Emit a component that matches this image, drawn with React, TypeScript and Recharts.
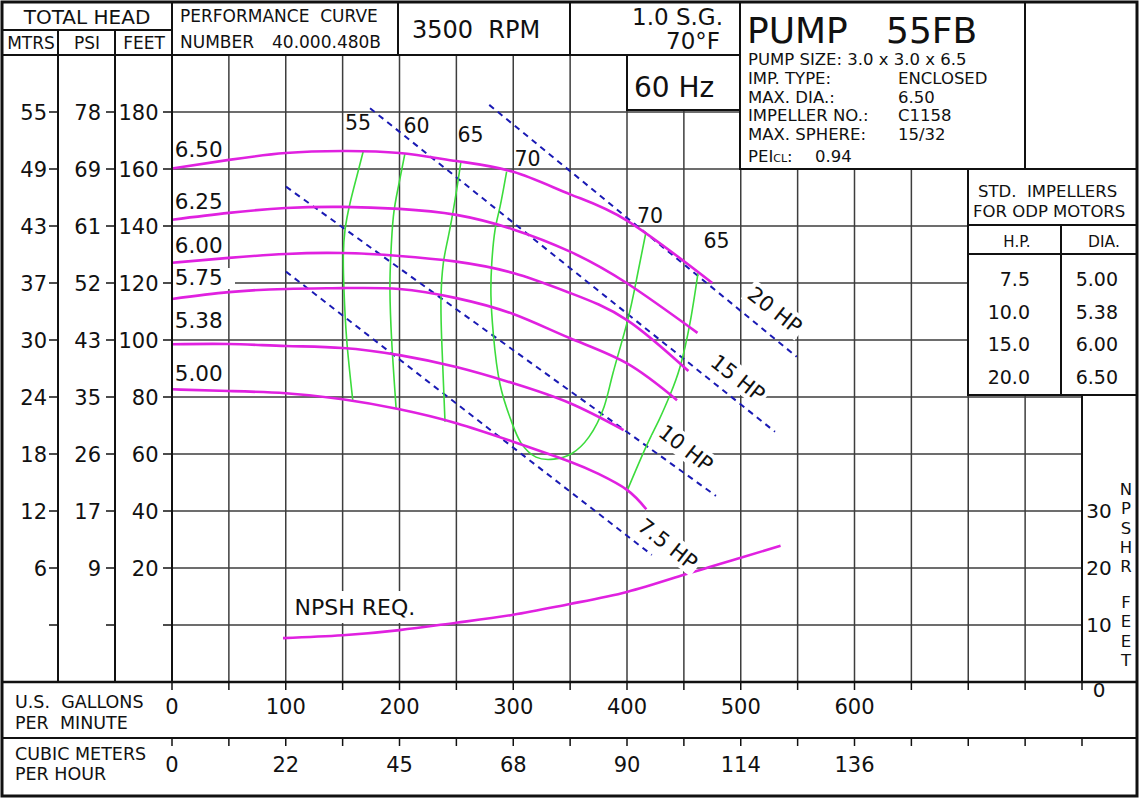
import { CartesianGrid, ComposedChart, Line, XAxis, YAxis } from 'recharts';

const FONT = '"DejaVu Sans", Verdana, sans-serif';
const INK = '#111';
const MAGENTA = '#e021e0';
const GREEN = '#3cdc3c';
const BLUE = '#1a1ab4';
const GRID = '#3d3d3d';

const W = 1140;
const H = 799;
const LEFT = 172;
const RIGHT = 1082;
const TOP = 55;
const BOTTOM = 682;
const ROW2 = 738;
const AXIS = 1; // thickness given to the (invisible) axes

// axis ticks / labels
const GPM_TICKS = [0, 50, 100, 150, 200, 250, 300, 350, 400, 450, 500, 550, 600, 650, 700, 750, 800];
const GPM_LABELS = [0, 100, 200, 300, 400, 500, 600];
const M3H_LABELS = ['0', '22', '45', '68', '90', '114', '136'];
const FEET_TICKS = [0, 20, 40, 60, 80, 100, 120, 140, 160, 180];
const MTRS_LABELS = ['', '6', '12', '18', '24', '30', '37', '43', '49', '55'];
const PSI_LABELS = ['', '9', '17', '26', '35', '43', '52', '61', '69', '78'];
const NPSH_TICKS = [0, 10, 20, 30];

// head curves, one per impeller diameter
const DIAMETERS = ['6.50', '6.25', '6.00', '5.75', '5.38', '5.00'];
const GPM_650 = [0, 50, 100, 150, 200, 250, 300, 350, 400, 475];
const FT_650 = [160.2, 163.2, 165.6, 166.3, 165.6, 162.8, 159, 151.1, 141.9, 120];
const GPM_625 = [0, 50, 100, 150, 200, 250, 300, 350, 400, 462];
const FT_625 = [142.2, 144.6, 146.3, 146.7, 146, 143.9, 138.8, 131, 119.9, 102.5];
const GPM_600 = [0, 50, 100, 150, 200, 250, 300, 350, 400, 454];
const FT_600 = [127.1, 128.8, 130.2, 130.5, 129.5, 127.5, 123.5, 116.5, 107, 89.1];
const GPM_575 = [0, 50, 100, 150, 200, 250, 300, 350, 400, 444];
const FT_575 = [114.4, 116.8, 117.9, 118.2, 117.9, 114.7, 109.1, 100.6, 91.8, 78.9];
const GPM_538 = [0, 50, 100, 150, 200, 250, 300, 350, 397];
const FT_538 = [98.5, 98.6, 97.9, 97.2, 94.7, 90.5, 84.8, 77.8, 68.4];
const GPM_500 = [0, 50, 100, 150, 200, 250, 300, 350, 375, 400, 417];
const FT_500 = [82.7, 82.1, 81.3, 79.2, 75.7, 70.8, 64.3, 57.3, 53, 47.4, 40.6];

// efficiency lines (%)
const EFF_NAMES = ['55', '60', '65', '70', '65'];
const EFF55_GPM = [168.2, 162.4, 156.5, 152.1, 150.6, 151.2, 153.6, 158.9];
const EFF55_FT = [166.3, 157.3, 148, 138.6, 129.2, 117.5, 100, 78.9];
const EFF60_GPM = [204.8, 199, 194.6, 192.3, 191.6, 193.1, 197];
const EFF60_FT = [165.5, 153.8, 143.3, 129.2, 117.5, 100, 76.1];
const EFF65_GPM = [254, 248.8, 242.9, 238.5, 236.5, 237.1, 240];
const EFF65_FT = [162.6, 149.1, 136.2, 126.9, 115.2, 100, 71.3];
const EFF70_GPM = [294.2, 288.4, 284, 281.1, 280.4, 282.5, 288.4, 298.9, 306.8, 320, 335.8, 350.8, 366.6, 379.8, 387.7, 400, 408.8, 416.7];
const EFF70_FT = [159.1, 146.8, 138.6, 126.9, 115.4, 102, 84.4, 70.9, 63.9, 58.9, 58.2, 60, 66, 76.5, 88.4, 106, 122.1, 137.9];
const EFF65R_GPM = [462.4, 455.4, 446.6, 437.8, 428.1, 416.7, 400];
const EFF65R_FT = [123.5, 106, 90.5, 80.7, 71.9, 62.5, 47];

// motor horsepower lines
const HP_NAMES = ['20 HP', '15 HP', '10 HP', '7.5 HP'];
const HP20_GPM = [278.9, 549.2];
const HP20_FT = [182.5, 94.1];
const HP15_GPM = [174.1, 530.1];
const HP15_FT = [181.3, 67.8];
const HP10_GPM = [100.2, 478.2];
const HP10_FT = [153.8, 45.3];
const HP75_GPM = [100.2, 421.8];
const HP75_FT = [124, 24.6];

// NPSH required
const NPSH_GPM = [97.6, 150, 200, 250, 300, 350, 400, 450, 500, 535];
const NPSH_FT = [7.7, 8.2, 9.1, 10.4, 11.8, 13.7, 15.8, 18.8, 21.8, 23.9];

// std impellers table
const STD_HP = ['7.5', '10.0', '15.0', '20.0'];
const STD_DIA = ['5.00', '5.38', '6.00', '6.50'];

const series = (g: number[], f: number[]) => g.map((gpm, i) => ({ gpm, ft: f[i] }));

const HEAD_CURVES = [
  series(GPM_650, FT_650),
  series(GPM_625, FT_625),
  series(GPM_600, FT_600),
  series(GPM_575, FT_575),
  series(GPM_538, FT_538),
  series(GPM_500, FT_500),
];
const EFF_CURVES = [
  series(EFF55_GPM, EFF55_FT),
  series(EFF60_GPM, EFF60_FT),
  series(EFF65_GPM, EFF65_FT),
  series(EFF70_GPM, EFF70_FT),
  series(EFF65R_GPM, EFF65R_FT),
];
const HP_LINES = [
  series(HP20_GPM, HP20_FT),
  series(HP15_GPM, HP15_FT),
  series(HP10_GPM, HP10_FT),
  series(HP75_GPM, HP75_FT),
];
const NPSH_DATA = NPSH_GPM.map((gpm, i) => ({ gpm, npsh: NPSH_FT[i] }));

// same scales as the chart, for placing annotation text
const gx = (g: number) => LEFT + ((RIGHT - LEFT) * g) / 800;
const hy = (ft: number) => BOTTOM - ((BOTTOM - TOP) * (ft + 20)) / 220;
const ny = (n: number) => BOTTOM - ((BOTTOM - TOP) * n) / 110;

// label anchors in chart units (gpm, ft)
const DIA_LABEL_FT = [164.2, 146, 130.5, 119.3, 104.2, 85.6];
const EFF_LABELS = ['55', '60', '65', '70', '70', '65'];
const EFF_LABEL_GPM = [163.5, 215, 262.4, 312.5, 420.2, 478.7];
const EFF_LABEL_FT = [173.7, 172.6, 169.5, 161, 141, 132.3];
const HP_LABEL_GPM = [530.1, 497.6, 451.9, 436];
const HP_LABEL_FT = [110.5, 86.7, 62.1, 28.4];

function GpmTick(props: any) {
  const { x, payload } = props;
  const v = payload.value as number;
  const i = GPM_LABELS.indexOf(v);
  return (
    <g>
      <line x1={x} x2={x} y1={BOTTOM} y2={BOTTOM + 8} stroke={INK} strokeWidth={1.5} />
      <line x1={x} x2={x} y1={ROW2} y2={ROW2 + 8} stroke={INK} strokeWidth={1.5} />
      {i >= 0 && (
        <text x={x} y={714} textAnchor="middle" fontSize={21} fill={INK}>
          {v}
        </text>
      )}
      {i >= 0 && (
        <text x={x} y={772} textAnchor="middle" fontSize={21} fill={INK}>
          {M3H_LABELS[i]}
        </text>
      )}
    </g>
  );
}

function HeadTick(props: any) {
  const { y, payload } = props;
  const i = FEET_TICKS.indexOf(payload.value);
  const by = y + 7.5;
  return (
    <g>
      <line x1={49} x2={58} y1={y} y2={y} stroke={INK} strokeWidth={1.5} />
      <line x1={106} x2={115} y1={y} y2={y} stroke={INK} strokeWidth={1.5} />
      <line x1={163} x2={172} y1={y} y2={y} stroke={INK} strokeWidth={1.5} />
      {i > 0 && (
        <>
          <text x={47} y={by} textAnchor="end" fontSize={21} fill={INK}>{MTRS_LABELS[i]}</text>
          <text x={101} y={by} textAnchor="end" fontSize={21} fill={INK}>{PSI_LABELS[i]}</text>
          <text x={158.5} y={by} textAnchor="end" fontSize={21} fill={INK}>{FEET_TICKS[i]}</text>
        </>
      )}
    </g>
  );
}

function NpshTick(props: any) {
  const { y, payload } = props;
  const v = payload.value as number;
  return (
    <text x={1099} y={v === 0 ? y + 15 : y + 7} textAnchor="middle" fontSize={20} fill={INK}>
      {v}
    </text>
  );
}

function Frame() {
  const L = { stroke: INK, strokeWidth: 2 };
  const t = { fill: INK, style: { whiteSpace: 'pre' as const } };
  const hpW = [62, 62, 62, 69];
  return (
    <svg
      width={W}
      height={H}
      style={{ position: 'absolute', left: 0, top: 0, pointerEvents: 'none', fontFamily: FONT }}
    >
      {/* boxes that sit over the grid */}
      <rect x={627} y={TOP} width={113} height={55} fill="#fff" {...L} />
      <rect x={740} y={2} width={397} height={167} fill="#fff" {...L} />
      <rect x={968} y={169} width={169} height={226} fill="#fff" {...L} />

      {/* frame lines */}
      <rect x={2} y={2} width={1135} height={794} fill="none" stroke={INK} strokeWidth={3} />
      <line x1={2} x2={LEFT} y1={30} y2={30} {...L} />
      <line x1={2} x2={740} y1={TOP} y2={TOP} {...L} />
      <line x1={58} x2={58} y1={30} y2={BOTTOM} {...L} />
      <line x1={115} x2={115} y1={30} y2={BOTTOM} {...L} />
      <line x1={LEFT} x2={LEFT} y1={2} y2={BOTTOM} {...L} />
      <line x1={398} x2={398} y1={2} y2={TOP} {...L} />
      <line x1={570} x2={570} y1={2} y2={TOP} {...L} />
      <line x1={1025} x2={1025} y1={2} y2={169} {...L} />
      <line x1={968} x2={1137} y1={225} y2={225} {...L} />
      <line x1={968} x2={1137} y1={254} y2={254} {...L} />
      <line x1={1061} x2={1061} y1={225} y2={395} {...L} />
      <line x1={RIGHT} x2={RIGHT} y1={395} y2={BOTTOM} {...L} />
      <line x1={2} x2={1137} y1={BOTTOM} y2={BOTTOM} stroke={INK} strokeWidth={2.5} />
      <line x1={2} x2={1137} y1={ROW2} y2={ROW2} {...L} />

      {/* header */}
      <text x={87} y={24} textAnchor="middle" fontSize={20} {...t}>TOTAL HEAD</text>
      <text x={31} y={49} textAnchor="middle" fontSize={17} {...t}>MTRS</text>
      <text x={87} y={49} textAnchor="middle" fontSize={17} {...t}>PSI</text>
      <text x={144} y={49} textAnchor="middle" fontSize={17} {...t}>FEET</text>
      <text x={180} y={22} fontSize={17} {...t}>PERFORMANCE  CURVE</text>
      <text x={180} y={48} fontSize={17} {...t}>NUMBER</text>
      <text x={272} y={48} fontSize={17} {...t}>40.000.480B</text>
      <text x={412} y={38} fontSize={24} {...t}>3500  RPM</text>
      <text x={723} y={25} textAnchor="end" fontSize={23} {...t}>1.0 S.G.</text>
      <text x={720} y={49} textAnchor="end" fontSize={23} {...t}>70°F</text>
      <text x={634} y={97} fontSize={28} {...t}>60 Hz</text>

      {/* pump box */}
      <text x={747} y={43} fontSize={36} {...t}>PUMP</text>
      <text x={886} y={43} fontSize={36} {...t}>55FB</text>
      <text x={748} y={65} fontSize={16.5} {...t}>PUMP SIZE: 3.0 x 3.0 x 6.5</text>
      <text x={748} y={84} fontSize={16.5} {...t}>IMP. TYPE:</text>
      <text x={898} y={84} fontSize={16.5} {...t}>ENCLOSED</text>
      <text x={748} y={103} fontSize={16.5} {...t}>MAX. DIA.:</text>
      <text x={898} y={103} fontSize={16.5} {...t}>6.50</text>
      <text x={748} y={121} fontSize={16.5} {...t}>IMPELLER NO.:</text>
      <text x={898} y={121} fontSize={16.5} {...t}>C1158</text>
      <text x={748} y={140} fontSize={16.5} {...t}>MAX. SPHERE:</text>
      <text x={898} y={140} fontSize={16.5} {...t}>15/32</text>
      <text x={748} y={162} fontSize={16.5} {...t}>
        PEI<tspan fontSize={11}>CL</tspan>:
      </text>
      <text x={815} y={162} fontSize={16.5} {...t}>0.94</text>

      {/* std impellers table */}
      <text x={978} y={197} fontSize={16.5} {...t}>STD.  IMPELLERS</text>
      <text x={973} y={217} fontSize={16.5} {...t}>FOR ODP MOTORS</text>
      <text x={1017} y={247} textAnchor="middle" fontSize={15} {...t}>H.P.</text>
      <text x={1104} y={247} textAnchor="middle" fontSize={15.5} {...t}>DIA.</text>
      {STD_HP.map((hp, i) => (
        <text key={'hp' + hp} x={1030} y={286 + i * 32.5} textAnchor="end" fontSize={19} {...t}>{hp}</text>
      ))}
      {STD_DIA.map((d, i) => (
        <text key={'d' + d} x={1118} y={286 + i * 32.5} textAnchor="end" fontSize={19} {...t}>{d}</text>
      ))}

      {/* NPSH axis title, letters stacked */}
      {['N', 'P', 'S', 'H', 'R'].map((c, i) => (
        <text key={'n' + i} x={1126} y={495 + i * 19.3} textAnchor="middle" fontSize={16.5} fill={INK}>{c}</text>
      ))}
      {['F', 'E', 'E', 'T'].map((c, i) => (
        <text key={'f' + i} x={1126} y={608 + i * 19.3} textAnchor="middle" fontSize={16.5} fill={INK}>{c}</text>
      ))}

      {/* bottom rows */}
      <text x={15} y={708} fontSize={17.5} {...t}>U.S.  GALLONS</text>
      <text x={15} y={729} fontSize={17.5} {...t}>PER  MINUTE</text>
      <text x={15} y={760} fontSize={17.5} {...t}>CUBIC METERS</text>
      <text x={15} y={780} fontSize={17.5} {...t}>PER HOUR</text>

      {/* curve labels */}
      {DIAMETERS.map((d, i) => (
        <g key={'dl' + d}>
          {d === '5.75' && <rect x={173} y={hy(DIA_LABEL_FT[i]) - 17} width={62} height={21} fill="#fff" />}
          <text x={gx(2.5)} y={hy(DIA_LABEL_FT[i])} fontSize={21.5} fill={INK}>{d}</text>
        </g>
      ))}
      {EFF_LABELS.map((e, i) => (
        <text key={'el' + i} x={gx(EFF_LABEL_GPM[i])} y={hy(EFF_LABEL_FT[i])} textAnchor="middle" fontSize={20.5} fill={INK}>
          {e}
        </text>
      ))}
      {HP_NAMES.map((h, i) => (
        <g key={'hl' + h} transform={`translate(${gx(HP_LABEL_GPM[i])},${hy(HP_LABEL_FT[i])}) rotate(38)`}>
          <rect x={-hpW[i] / 2 - 3} y={-12} width={hpW[i] + 6} height={24} fill="#fff" />
          <text x={0} y={7.5} textAnchor="middle" fontSize={21} fill={INK}>{h}</text>
        </g>
      ))}
      <rect x={289} y={ny(11.75) - 24} width={132} height={32} fill="#fff" />
      <text x={gx(107.8)} y={ny(11.75)} fontSize={22} fill={INK}>NPSH REQ.</text>
    </svg>
  );
}

export default function App() {
  return (
    <div style={{ position: 'absolute', left: 0, top: 0, width: W, height: H, background: '#fff', fontFamily: FONT }}>
      <ComposedChart
        width={W}
        height={H}
        margin={{ top: TOP, right: W - RIGHT - AXIS, bottom: H - BOTTOM - AXIS, left: LEFT - AXIS }}
        style={{ fontFamily: FONT }}
      >
        <CartesianGrid xAxisId="gpm" yAxisId="head" stroke={GRID} strokeWidth={1.5} />
        <XAxis
          xAxisId="gpm"
          type="number"
          dataKey="gpm"
          domain={[0, 800]}
          ticks={GPM_TICKS}
          interval={0}
          height={AXIS}
          axisLine={false}
          tickLine={false}
          tick={(p: any) => <GpmTick {...p} />}
        />
        <YAxis
          yAxisId="head"
          type="number"
          domain={[-20, 200]}
          ticks={FEET_TICKS}
          interval={0}
          width={AXIS}
          axisLine={false}
          tickLine={false}
          tick={(p: any) => <HeadTick {...p} />}
        />
        <YAxis
          yAxisId="npsh"
          orientation="right"
          type="number"
          domain={[0, 110]}
          ticks={NPSH_TICKS}
          interval={0}
          width={AXIS}
          axisLine={false}
          tickLine={false}
          tick={(p: any) => <NpshTick {...p} />}
        />
        {HP_LINES.map((d, i) => (
          <Line
            key={'hp' + HP_NAMES[i]}
            xAxisId="gpm"
            yAxisId="head"
            data={d}
            dataKey="ft"
            type="linear"
            stroke={BLUE}
            strokeWidth={2}
            strokeDasharray="6 5"
            dot={false}
            activeDot={false}
            isAnimationActive={false}
          />
        ))}
        {EFF_CURVES.map((d, i) => (
          <Line
            key={'eff' + i + EFF_NAMES[i]}
            xAxisId="gpm"
            yAxisId="head"
            data={d}
            dataKey="ft"
            type="natural"
            stroke={GREEN}
            strokeWidth={1.6}
            dot={false}
            activeDot={false}
            isAnimationActive={false}
          />
        ))}
        {HEAD_CURVES.map((d, i) => (
          <Line
            key={'dia' + DIAMETERS[i]}
            xAxisId="gpm"
            yAxisId="head"
            data={d}
            dataKey="ft"
            type="natural"
            stroke={MAGENTA}
            strokeWidth={2.6}
            dot={false}
            activeDot={false}
            isAnimationActive={false}
          />
        ))}
        <Line
          xAxisId="gpm"
          yAxisId="npsh"
          data={NPSH_DATA}
          dataKey="npsh"
          type="natural"
          stroke={MAGENTA}
          strokeWidth={2.6}
          dot={false}
          activeDot={false}
          isAnimationActive={false}
        />
      </ComposedChart>
      <Frame />
    </div>
  );
}
